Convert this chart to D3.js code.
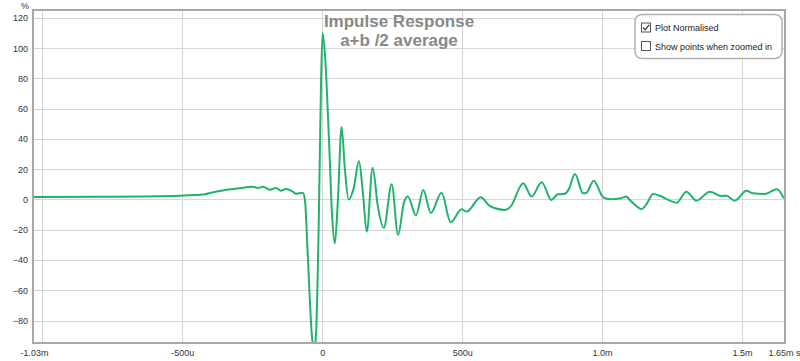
<!DOCTYPE html>
<html>
<head>
<meta charset="utf-8">
<script src="https://cdn.jsdelivr.net/npm/d3@7"></script>
<style>
  html, body { margin: 0; padding: 0; background: #fff; }
  svg { display: block; font-family: "Liberation Sans", Arial, sans-serif; }
</style>
</head>
<body>
<svg id="chart" width="800" height="361"></svg>
<script>
// ---- data (time in ms, amplitude in %) ----
const timesMs = [
  -1.030, -0.794, -0.508, -0.473, -0.419, -0.383, -0.348, -0.294, -0.251, -0.230,
  -0.212, -0.187, -0.165, -0.148, -0.130, -0.108, -0.094, -0.083, -0.069, -0.062,
  -0.051, -0.037, -0.030, -0.0225, -0.012, -0.005, 0.001, 0.010, 0.024, 0.035,
  0.045, 0.056, 0.069, 0.081, 0.094, 0.113, 0.131, 0.145, 0.159, 0.180,
  0.199, 0.220, 0.248, 0.271, 0.292, 0.306, 0.335, 0.361, 0.388, 0.426,
  0.459, 0.498, 0.516, 0.566, 0.599, 0.653, 0.673, 0.718, 0.748, 0.784,
  0.819, 0.842, 0.863, 0.881, 0.903, 0.932, 0.944, 0.970, 1.004, 1.028,
  1.069, 1.085, 1.105, 1.141, 1.159, 1.182, 1.206, 1.236, 1.266, 1.301,
  1.337, 1.385, 1.426, 1.444, 1.474, 1.516, 1.539, 1.581, 1.625, 1.649
];
const amplitude = [
  1.6, 1.8, 2.5, 2.8, 3.5, 5.0, 6.3, 7.4, 8.5, 7.6,
  8.5, 6.5, 7.6, 5.8, 6.9, 5.5, 3.8, 4.2, 4.3, 0,
  -40, -90, -100, -90, -10, 70, 110, 95, 40, -10,
  -29, 0, 48, 20, 0, 8, 25.5, 5, -21.3, 21,
  -5, -18.7, 10, -23.3, -2, 2, -10.5, 6.3, -9, 4.5,
  -15, -6.5, -8, 1.5, -4.3, -6.9, -4.7, 10.7, 1.9, 11.4,
  -0.3, 3.4, 3.6, 6.7, 16.9, 4.1, 4.5, 12.4, 1.4, 0.1,
  0.8, 1.9, -1.4, -6.3, -3, 3.6, 2.5, -0.3, -2.1, 5.2,
  -0.8, 5.2, 2.3, 2.5, -0.8, 5.8, 4.1, 3.6, 6.7, 0.8
];
const yTicks = [120, 100, 80, 60, 40, 20, 0, -20, -40, -60, -80];
const xGridMs = [-1.0, -0.5, 0, 0.5, 1.0, 1.5];
const xTickValues = [-1.03, -0.5, 0, 0.5, 1.0, 1.5, 1.65];
const xTickLabels = ["-1.03m", "-500u", "0", "500u", "1.0m", "1.5m", "1.65m s"];
const titleLines = ["Impulse Response", "a+b /2 average"];
const legendItems = [
  { label: "Plot Normalised", checked: true },
  { label: "Show points when zoomed in", checked: false }
];

// ---- layout ----
const svg = d3.select("#chart");
const plot = { left: 34, right: 784, top: 11, bottom: 342 };
const x = d3.scaleLinear().domain([-1.03, 1.65]).range([plot.left, plot.right]);
const y = d3.scaleLinear().domain([-94.2, 124.6]).range([plot.bottom, plot.top]);

svg.append("defs").append("clipPath").attr("id", "clip")
  .append("rect")
  .attr("x", plot.left).attr("y", plot.top)
  .attr("width", plot.right - plot.left).attr("height", plot.bottom - plot.top);

// grid
const grid = svg.append("g");
grid.selectAll(".hg").data(yTicks).join("line")
  .attr("x1", plot.left).attr("x2", plot.right)
  .attr("y1", d => Math.round(y(d)) + 0.5).attr("y2", d => Math.round(y(d)) + 0.5)
  .attr("stroke", "#d6d6d6").attr("stroke-width", 1);
grid.selectAll(".vg").data(xGridMs).join("line")
  .attr("y1", plot.top).attr("y2", plot.bottom)
  .attr("x1", d => Math.round(x(d)) + 0.5).attr("x2", d => Math.round(x(d)) + 0.5)
  .attr("stroke", "#d6d6d6").attr("stroke-width", 1);

// title
const title = svg.append("g").attr("fill", "#888").attr("font-weight", "bold")
  .attr("font-size", "17px").attr("text-anchor", "middle");
title.selectAll("text").data(titleLines).join("text")
  .attr("x", 399).attr("y", (d, i) => 27 + i * 19)
  .text(d => d);

// line
const line = d3.line()
  .x((d, i) => x(timesMs[i]))
  .y(d => y(d))
  .curve(d3.curveMonotoneX);
svg.append("path")
  .attr("clip-path", "url(#clip)")
  .attr("d", line(amplitude))
  .attr("fill", "none")
  .attr("stroke", "#22b36a")
  .attr("stroke-width", 2)
  .attr("stroke-linejoin", "round");

// frame
svg.append("rect")
  .attr("x", plot.left - 1).attr("y", plot.top - 1)
  .attr("width", plot.right - plot.left + 2).attr("height", plot.bottom - plot.top + 2)
  .attr("fill", "none").attr("stroke", "#a8a8a8").attr("stroke-width", 2);

// y axis labels
const yAxis = d3.axisLeft(y).tickValues(yTicks).tickSize(0).tickPadding(5);
const gy = svg.append("g").attr("transform", `translate(${plot.left - 1},0)`).call(yAxis);
gy.select(".domain").remove();
gy.selectAll("text").attr("font-size", "9px").attr("fill", "#333")
  .attr("font-family", "Liberation Sans, Arial, sans-serif");
svg.append("text").attr("x", 25).attr("y", 9).attr("text-anchor", "middle")
  .attr("font-size", "9px").attr("fill", "#333").text("%");

// x axis labels
const xAxis = d3.axisBottom(x).tickValues(xTickValues).tickSize(0).tickPadding(8)
  .tickFormat((d, i) => xTickLabels[i]);
const gx = svg.append("g").attr("transform", `translate(0,${plot.bottom})`).call(xAxis);
gx.select(".domain").remove();
gx.selectAll("text").attr("font-size", "9px").attr("fill", "#333")
  .attr("font-family", "Liberation Sans, Arial, sans-serif");
gx.selectAll(".tick").filter((d, i) => i === xTickValues.length - 1)
  .select("text").attr("text-anchor", "start").attr("dx", "-16");

// legend
const lg = svg.append("g");
lg.append("rect").attr("x", 635).attr("y", 14.5).attr("width", 147).attr("height", 44)
  .attr("rx", 7).attr("fill", "#fff").attr("stroke", "#b0b0b0").attr("stroke-width", 1.5);
const items = lg.selectAll(".it").data(legendItems).join("g")
  .attr("transform", (d, i) => `translate(641,${22.5 + i * 18.5})`);
items.append("rect").attr("x", 0.5).attr("y", 0.5).attr("width", 9).attr("height", 9)
  .attr("fill", "#fff").attr("stroke", "#555").attr("stroke-width", 1);
items.filter(d => d.checked).append("path")
  .attr("d", "M2,5 L4.2,7.3 L8.2,2.3").attr("fill", "none")
  .attr("stroke", "#333").attr("stroke-width", 1.2);
items.append("text").attr("x", 14).attr("y", 8.8)
  .attr("font-size", "9px").attr("fill", "#222").text(d => d.label);
</script>
</body>
</html>
